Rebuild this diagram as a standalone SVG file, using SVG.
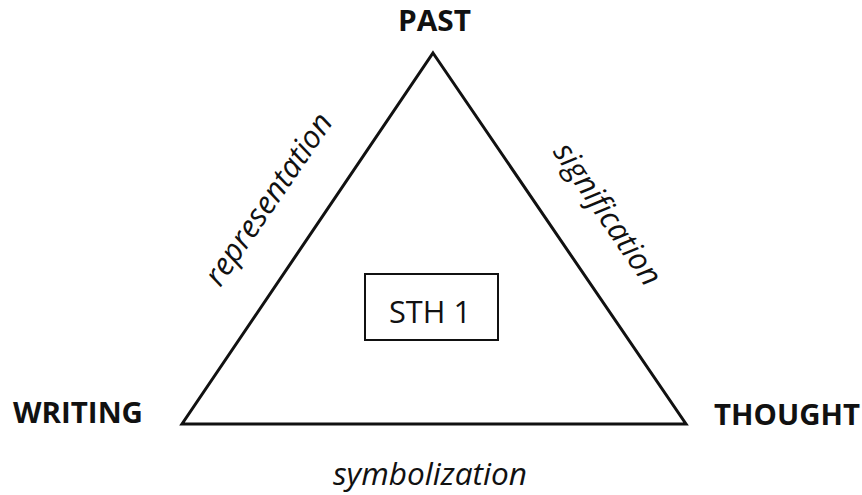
<svg xmlns="http://www.w3.org/2000/svg" width="862" height="495" viewBox="0 0 862 495">
<style>
.lbl{font-family:"Open Sans","Liberation Sans",sans-serif;font-weight:bold;font-size:29px;fill:#111}
.rel{font-family:"Open Sans","Liberation Sans",sans-serif;font-style:italic;font-size:31px;fill:#111}
.edge{fill:none;stroke:#111;stroke-width:3;stroke-linejoin:miter}
</style>
<rect width="862" height="495" fill="#fff"/>
<g id="connectors">
<polygon class="edge" points="433,53 686,424 182,424"/>
</g>
<g id="past"><text class="lbl" x="398" y="31" textLength="73" lengthAdjust="spacingAndGlyphs">PAST</text></g>
<g id="writing"><text class="lbl" x="13" y="423" textLength="130" lengthAdjust="spacingAndGlyphs">WRITING</text></g>
<g id="thought"><text class="lbl" x="714" y="425" textLength="146" lengthAdjust="spacingAndGlyphs">THOUGHT</text></g>
<g id="sth1">
<rect x="365" y="274" width="133" height="66" fill="none" stroke="#111" stroke-width="2"/>
<text x="389" y="323" textLength="82" lengthAdjust="spacingAndGlyphs" style="font-family:'Open Sans','Liberation Sans',sans-serif;font-size:31px;fill:#111">STH 1</text>
</g>
<g id="labels">
<text class="rel" transform="translate(277,205) rotate(-55.6)" text-anchor="middle">representation</text>
<text class="rel" transform="translate(599,220) rotate(55.6)" text-anchor="middle">signification</text>
<text class="rel" x="333" y="485" textLength="194" lengthAdjust="spacingAndGlyphs">symbolization</text>
</g>
</svg>
